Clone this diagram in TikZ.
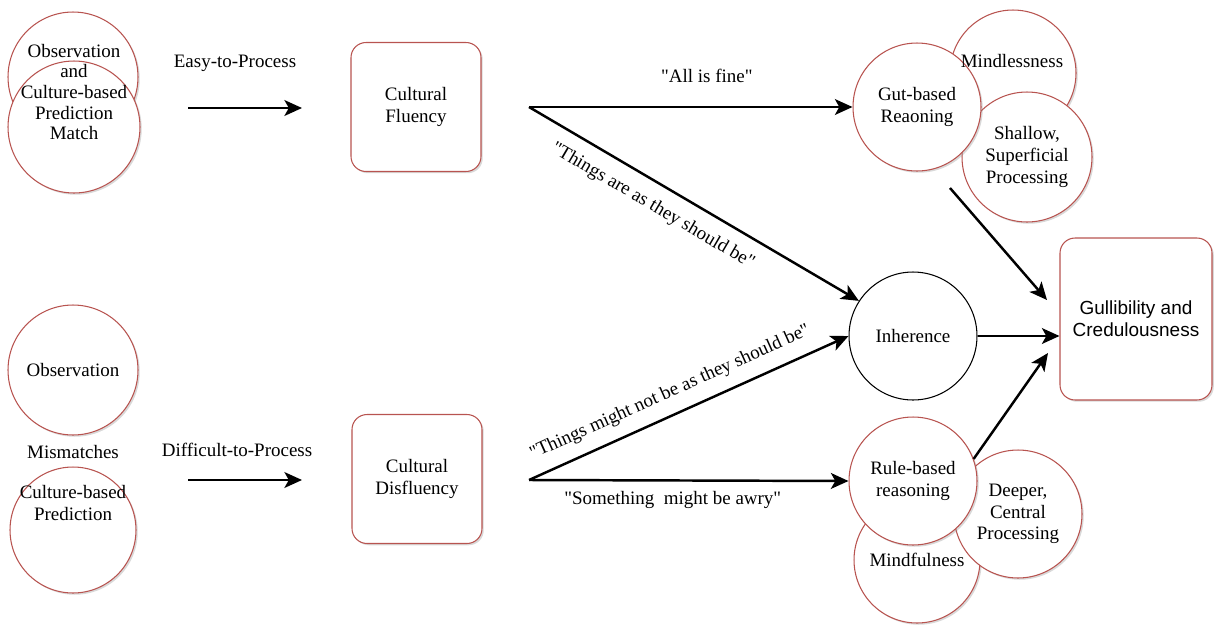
\documentclass[tikz,border=0pt]{standalone}
\usepackage{fontspec}
\setmainfont{Liberation Serif}[Ligatures=TeXOff]
\newfontfamily\gullfont{Liberation Sans}
\usetikzlibrary{arrows.meta}
\usetikzlibrary{positioning}
\usetikzlibrary{shadows}
\definecolor{DarkRose}{HTML}{B85450}

\begin{document}
\begin{tikzpicture}[x=0.02cm, y=-0.02cm,
  every node/.style={font=\fontsize{10.8pt}{12.4pt}\selectfont},
  bubble/.style={circle, draw=DarkRose, line width=0.6pt, fill=white,
    inner sep=0pt, align=center, minimum size=2.56cm,
    drop shadow={shadow xshift=1pt, shadow yshift=-1pt, opacity=0.3}},
  stage/.style={rectangle, rounded corners=0.3cm, draw=DarkRose, line width=0.6pt,
    fill=white, align=center, minimum width=2.6cm, minimum height=2.58cm,
    drop shadow={shadow xshift=1pt, shadow yshift=-1pt, opacity=0.3}},
  arr/.style={line width=1.4pt, -{Stealth[length=10pt, width=9pt, inset=2.5pt]}},
  txt/.style={inner sep=0pt, align=center},
  lbl/.style={inner sep=0pt}]
  \useasboundingbox (0,0) rectangle (1214,626);

  % left column
  \node[bubble, minimum size=2.6cm] (matchA) at (73,77) {};
  \node[bubble, minimum size=2.64cm] (matchB) at (74,127) {};
  \node[txt, font=\fontsize{10.8pt}{11.8pt}\selectfont] (match) at (74,92)
    {Observation\\and\\Culture-based\\Prediction\\Match};

  \node[bubble, minimum size=2.6cm] (obs) at (73,370) {Observation};
  \node[txt] (mism) at (73,452) {Mismatches};
  \node[bubble, minimum size=2.52cm] (pred) at (73,530) {};
  \node[txt] (predtext) at (73,503) {Culture-based\\Prediction};

  % processing arrows
  \coordinate (easyS) at (188,108);
  \coordinate (easyE) at (302,108);
  \draw[arr] (easyS) -- (easyE);
  \node[txt] (easy) at (235,63) {Easy-to-Process};

  \coordinate (diffS) at (188,480);
  \coordinate (diffE) at (302,480);
  \draw[arr] (diffS) -- (diffE);
  \node[txt] (diff) at (237,450) {Difficult-to-Process};

  % fluency boxes
  \node[stage] (fluency) at (416,107) {Cultural\\Fluency};
  \node[stage] (disfluency) at (417,479) {Cultural\\Disfluency};

  % right side
  \node[bubble, minimum size=2.52cm] (mindless) at (1013,73) {};
  \node[bubble, minimum size=2.6cm] (shallow) at (1027,157) {Shallow,\\Superficial\\Processing};
  \node[bubble] (gut) at (917,107) {Gut-based\\Reaoning};
  \node[txt] (mindlesstext) at (1012,61) {Mindlessness};

  \node[circle, draw=black, line width=0.6pt, fill=white, inner sep=0pt,
    minimum size=2.56cm] (inh) at (913,336) {Inherence};

  \node[bubble, minimum size=2.52cm] (mindful) at (917,560) {Mindfulness};
  \node[bubble] (deeper) at (1018,514) {Deeper,\\Central\\Processing};
  \node[bubble] (rule) at (913,481) {Rule-based\\reasoning};

  \node[stage, minimum width=3.04cm, minimum height=3.24cm,
    font=\gullfont\fontsize{10.8pt}{12.4pt}\selectfont] (gull) at (1136,319)
    {Gullibility and\\Credulousness};

  % connectors
  \coordinate (fj) at (529,107);
  \coordinate (dj) at (529,480);

  \draw[arr] (fj) -- node[lbl, pos=0.55, above=0.47cm] {"All is fine"} (gut.west);
  \draw[arr] (fj) -- node[lbl, sloped, pos=0.41, below=0.26cm]
    {"Things are as they should be"} (inh.147);
  \draw[arr] (dj) -- node[lbl, sloped, pos=0.47, above=0.24cm]
    {"Things might not be as they should be"} (inh.west);
  \draw[arr] (dj) -- node[lbl, pos=0.45, below=0.19cm]
    {"Something\ \ might be awry"} (rule.west);

  \coordinate (shS) at (950,188);
  \coordinate (shE) at (1047,300);
  \draw[arr] (shS) -- (shE);
  \draw[arr] (inh.east) -- (inh.east -| gull.west);
  \coordinate (ruE) at (1048,353);
  \draw[arr] (rule.20) -- (ruE);
\end{tikzpicture}
\end{document}
